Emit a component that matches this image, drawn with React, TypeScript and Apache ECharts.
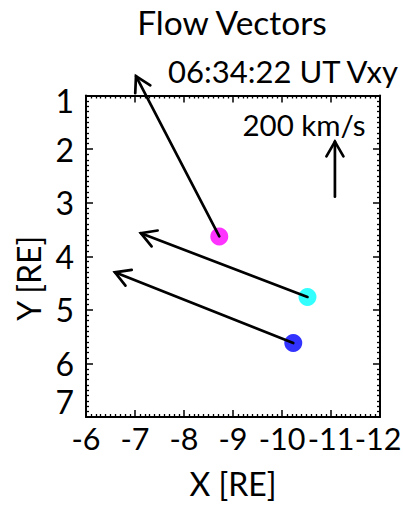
import React, { useEffect, useRef } from "react";
import * as echarts from "echarts";

// Vector start points (markers) and arrow tips, in RE
const startX = [-8.72, -10.52, -10.23];
const startY = [3.63, 4.76, 5.62];
const endX = [-7.02, -7.12, -6.59];
const endY = [0.64, 3.57, 4.3];
const markerColors = ["#ff00ff", "#00ffff", "#0000ff"];

// Reference (scale) arrow: 200 km/s
const refX = [-11.08, -11.08];
const refY = [2.89, 1.86];

const xTicks = [-6, -7, -8, -9, -10, -11, -12];
const yTicks = [1, 2, 3, 4, 5, 6, 7];

const titleText = "Flow Vectors";
const subtitleText = "06:34:22 UT Vxy";
const scaleText = "200 km/s";

const FONT = "Lato";

export default function App() {
  const ref = useRef<HTMLDivElement>(null);
  useEffect(() => {
    if (!ref.current) return;
    const chart = echarts.init(ref.current, null, { renderer: "svg" });

    const arrowData = startX.map((sx, i) => [sx, startY[i], endX[i], endY[i]]);
    arrowData.push([refX[0], refY[0], refX[1], refY[1]]);

    const axisCommon = {
      axisLine: { show: true, lineStyle: { color: "#000", width: 2 } },
      axisTick: { show: true, inside: true, length: 7, lineStyle: { color: "#000", width: 1.5 } },
      minorTick: { show: true, splitNumber: 10, length: 3, lineStyle: { color: "#000", width: 1.3 } },
      splitLine: { show: false },
    };

    const option: any = {
      animation: false,
      backgroundColor: "#fff",
      textStyle: { fontFamily: FONT },
      grid: { left: 86, right: 23, top: 95.5, bottom: 90, outerBoundsMode: "none" },
      xAxis: [
        {
          type: "value",
          min: -12,
          max: -6,
          interval: 1,
          inverse: true,
          position: "bottom",
          name: "X [RE]",
          nameLocation: "middle",
          nameGap: 50,
          nameTextStyle: { fontFamily: FONT, fontSize: 32, color: "#000" },
          axisLabel: {
            fontFamily: FONT,
            fontSize: 30.5,
            color: "#000",
            margin: 5,
            showMinLabel: true,
            showMaxLabel: true,
            formatter: (v: number) => {
              if (!xTicks.includes(v)) return "";
              if (v === -12) return "{e|" + v + "}";
              return "{n|" + v + "}";
            },
            rich: {
              n: { fontFamily: FONT, fontSize: 30.5, color: "#000" },
              e: { fontFamily: FONT, fontSize: 30.5, color: "#000", padding: [0, 4, 0, 0] },
            },
          },
          ...axisCommon,
        },
        {
          type: "value",
          min: -12,
          max: -6,
          interval: 1,
          inverse: true,
          position: "top",
          axisLabel: { show: false },
          ...axisCommon,
        },
      ],
      yAxis: [
        {
          type: "value",
          min: 1,
          max: 7,
          interval: 1,
          inverse: true,
          position: "left",
          name: "Y [RE]",
          nameLocation: "middle",
          nameRotate: 90,
          nameGap: 38,
          nameTextStyle: { fontFamily: FONT, fontSize: 32, color: "#000", padding: [0, 44, 0, 0] },
          axisLabel: {
            fontFamily: FONT,
            fontSize: 32,
            color: "#000",
            margin: 12,
            showMinLabel: true,
            showMaxLabel: true,
            formatter: (v: number) => {
              if (!yTicks.includes(v)) return "";
              if (v === 1) return "{lo|1}";
              if (v === 7) return "{hi|7}";
              return "{n|" + v + "}";
            },
            rich: {
              n: { fontFamily: FONT, fontSize: 32, color: "#000" },
              lo: { fontFamily: FONT, fontSize: 32, color: "#000", padding: [10, 0, 0, 0] },
              hi: { fontFamily: FONT, fontSize: 32, color: "#000", padding: [0, 0, 32, 0] },
            },
          },
          ...axisCommon,
        },
        {
          type: "value",
          min: 1,
          max: 7,
          interval: 1,
          inverse: true,
          position: "right",
          axisLabel: { show: false },
          ...axisCommon,
        },
      ],
      graphic: [
        {
          type: "text",
          x: 232,
          y: 22,
          style: { text: titleText, fontFamily: FONT, fontSize: 33.5, fill: "#000", textAlign: "center", textVerticalAlign: "middle" },
        },
        {
          type: "text",
          x: 283,
          y: 71,
          style: { text: subtitleText, fontFamily: FONT, fontSize: 31, fill: "#000", textAlign: "center", textVerticalAlign: "middle" },
        },
        {
          type: "text",
          x: 304,
          y: 124,
          style: { text: scaleText, fontFamily: FONT, fontSize: 29.5, fill: "#000", textAlign: "center", textVerticalAlign: "middle" },
        },
      ],
      series: [
        {
          type: "scatter",
          xAxisIndex: 0,
          yAxisIndex: 0,
          symbol: "circle",
          symbolSize: 18,
          z: 2,
          data: startX.map((sx, i) => ({
            value: [sx, startY[i]],
            itemStyle: { color: markerColors[i] },
          })),
        },
        {
          type: "custom",
          xAxisIndex: 0,
          yAxisIndex: 0,
          z: 3,
          clip: false,
          data: arrowData,
          renderItem: (params: any, api: any) => {
            const p0 = api.coord([api.value(0), api.value(1)]);
            const p1 = api.coord([api.value(2), api.value(3)]);
            const dx = p0[0] - p1[0];
            const dy = p0[1] - p1[1];
            const ang = Math.atan2(dy, dx);
            const len = 17;
            const spread = (30 * Math.PI) / 180;
            const w1 = [p1[0] + len * Math.cos(ang + spread), p1[1] + len * Math.sin(ang + spread)];
            const w2 = [p1[0] + len * Math.cos(ang - spread), p1[1] + len * Math.sin(ang - spread)];
            const style = { stroke: "#000", lineWidth: 2.7, fill: null, lineCap: "round", lineJoin: "miter" };
            return {
              type: "group",
              children: [
                { type: "line", shape: { x1: p0[0], y1: p0[1], x2: p1[0], y2: p1[1] }, style },
                { type: "polyline", shape: { points: [w1, p1, w2] }, style },
              ],
            };
          },
        },
      ],
    };

    chart.setOption(option);
    return () => chart.dispose();
  }, []);

  return <div ref={ref} style={{ width: 403, height: 507, position: "absolute", left: 0, top: 0 }} />;
}
